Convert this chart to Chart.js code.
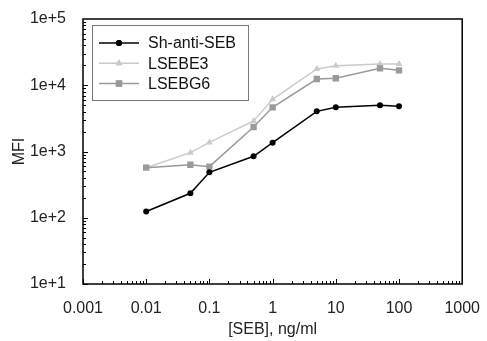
<!DOCTYPE html>
<html>
<head>
<meta charset="utf-8">
<script src="https://cdn.jsdelivr.net/npm/chart.js@4/dist/chart.umd.min.js"></script>
<style>
  body { margin: 0; background: #fff; }
  #wrap { width: 487px; height: 341px; }
</style>
</head>
<body>
<div id="wrap"><canvas id="chart"></canvas></div>
<script>
const seb = [0.01, 0.05, 0.1, 0.5, 1, 5, 10, 50, 100];
const shAntiSeb = [124, 234, 485, 846, 1358, 4040, 4645, 4980, 4810];
const lsebe3 = [570, 960, 1370, 2886, 6140, 17600, 19700, 20900, 20900];
const lsebg6 = [570, 632, 590, 2344, 4645, 12420, 12740, 18000, 16800];

const xTicks = [0.001, 0.01, 0.1, 1, 10, 100, 1000];
const xTickLabels = ['0.001', '0.01', '0.1', '1', '10', '100', '1000'];
const yTicks = [10, 100, 1000, 10000, 100000];
const yTickLabels = ['1e+1', '1e+2', '1e+3', '1e+4', '1e+5'];

const FONT = "'Liberation Sans', Arial, sans-serif";

function points(values) {
    return seb.map((x, i) => ({ x: x, y: values[i] }));
}

const series = [
    { label: 'Sh-anti-SEB', data: shAntiSeb, color: '#000000', style: 'circle', radius: 3, order: 0 },
    { label: 'LSEBE3', data: lsebe3, color: '#cacaca', style: 'triangle', radius: 4, order: 2 },
    { label: 'LSEBG6', data: lsebg6, color: '#9a9a9a', style: 'rect', radius: 4.5, order: 1 }
];

// frame, inside ticks and the boxed legend
const framePlugin = {
    id: 'frame',
    afterDraw(chart) {
        const { ctx, chartArea: a, scales } = chart;
        ctx.save();
        ctx.strokeStyle = '#000';
        ctx.lineWidth = 1;
        ctx.beginPath();
        for (let i = 0; i < xTicks.length - 1; i++) {
            for (let k = 1; k <= 9; k++) {
                const px = Math.round(scales.x.getPixelForValue(xTicks[i] * k)) + 0.5;
                const len = k === 1 ? 5 : 3;
                ctx.moveTo(px, a.bottom);
                ctx.lineTo(px, a.bottom - len);
            }
        }
        for (let i = 0; i < yTicks.length - 1; i++) {
            for (let k = 1; k <= 9; k++) {
                const py = Math.round(scales.y.getPixelForValue(yTicks[i] * k)) + 0.5;
                const len = k === 1 ? 5 : 3;
                ctx.moveTo(a.left, py);
                ctx.lineTo(a.left + len, py);
            }
        }
        ctx.stroke();

        ctx.lineWidth = 1.5;
        ctx.strokeRect(a.left, a.top, a.right - a.left, a.bottom - a.top);

        // legend
        const lx = a.left + 9, ly = a.top + 6;
        ctx.fillStyle = '#fff';
        ctx.fillRect(lx, ly, 156, 75);
        ctx.lineWidth = 1;
        ctx.strokeStyle = '#7a7a7a';
        ctx.strokeRect(lx + 0.5, ly + 0.5, 156, 75);
        ctx.font = '16px ' + FONT;
        ctx.textBaseline = 'middle';
        series.forEach((s, i) => {
            const cy = ly + 18 + i * 20.3;
            ctx.strokeStyle = s.color;
            ctx.lineWidth = 1.5;
            ctx.beginPath();
            ctx.moveTo(lx + 7, cy);
            ctx.lineTo(lx + 47, cy);
            ctx.stroke();
            ctx.fillStyle = s.color;
            Chart.helpers.drawPoint(ctx, { pointStyle: s.style, radius: s.radius, borderWidth: 0 }, lx + 27, cy);
            ctx.fill();
            ctx.fillStyle = '#111';
            ctx.fillText(s.label, lx + 56, cy + 1);
        });
        ctx.restore();
    }
};

new Chart(document.getElementById('chart').getContext('2d'), {
    type: 'line',
    data: {
        datasets: series.map(s => ({
            label: s.label,
            data: points(s.data),
            borderColor: s.color,
            backgroundColor: s.color,
            pointStyle: s.style,
            pointRadius: s.radius,
            pointBorderWidth: 0,
            borderWidth: 1.5,
            order: s.order,
            tension: 0
        }))
    },
    options: {
        responsive: true,
        maintainAspectRatio: false,
        animation: false,
        layout: { padding: { top: 19, right: 21, left: 0, bottom: 0 } },
        plugins: {
            legend: { display: false },
            tooltip: { enabled: false }
        },
        scales: {
            x: {
                type: 'logarithmic',
                min: 0.001,
                max: 1000,
                afterBuildTicks: s => { s.ticks = xTicks.map(v => ({ value: v })); },
                afterFit: s => { s.height = 57; },
                grid: { display: false },
                border: { display: false },
                ticks: {
                    autoSkip: false,
                    maxRotation: 0,
                    padding: 7,
                    color: '#222',
                    font: { family: FONT, size: 16 },
                    callback: (v, i) => xTickLabels[i]
                },
                title: {
                    display: true,
                    text: '[SEB], ng/ml',
                    color: '#222',
                    font: { family: FONT, size: 16 },
                    padding: { top: 0, bottom: 2 }
                }
            },
            y: {
                type: 'logarithmic',
                min: 10,
                max: 100000,
                afterBuildTicks: s => { s.ticks = yTicks.map(v => ({ value: v })); },
                afterFit: s => { s.width = 83; },
                grid: { display: false },
                border: { display: false },
                ticks: {
                    autoSkip: false,
                    padding: 9,
                    color: '#222',
                    font: { family: FONT, size: 16 },
                    callback: (v, i) => yTickLabels[i]
                },
                title: {
                    display: true,
                    text: 'MFI',
                    color: '#222',
                    font: { family: FONT, size: 16 },
                    padding: { top: 10, bottom: 0 }
                }
            }
        }
    },
    plugins: [framePlugin]
});
</script>
</body>
</html>
